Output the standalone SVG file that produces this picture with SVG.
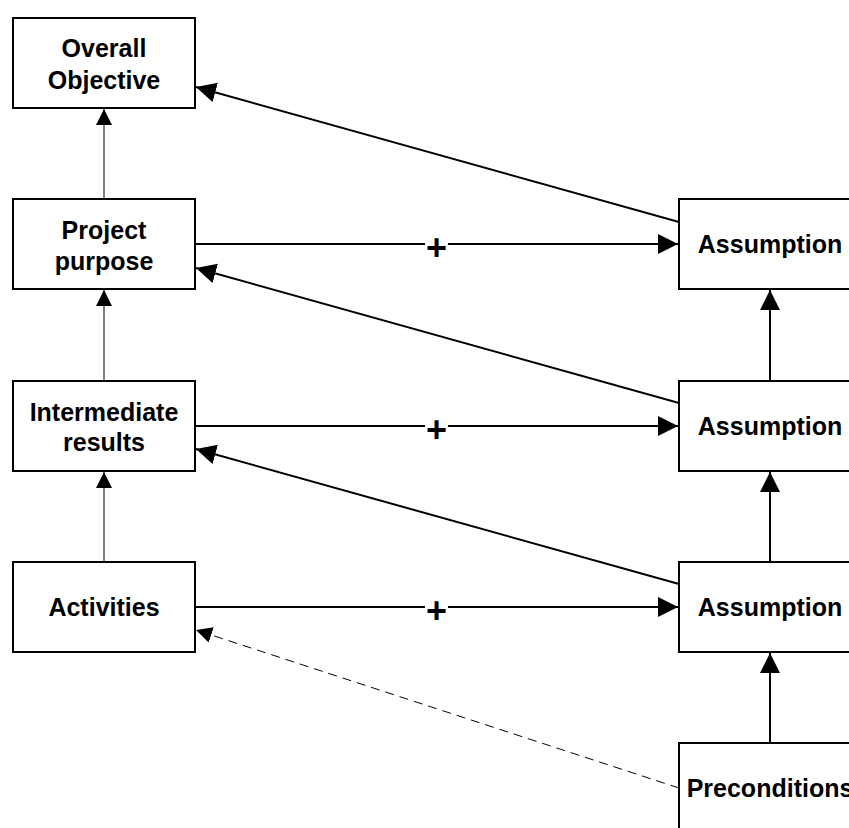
<svg xmlns="http://www.w3.org/2000/svg" width="849" height="828" viewBox="0 0 849 828">
<style>
.box{fill:#fff;stroke:#000;stroke-width:2}
.t{font-family:"Liberation Sans",Arial,sans-serif;font-weight:bold;font-size:25px;text-anchor:middle;fill:#000}
.plus{font-family:"Liberation Sans",Arial,sans-serif;font-weight:bold;font-size:36px;text-anchor:middle;fill:#000}
.thick{stroke:#000;stroke-width:2;fill:none}
.thin{stroke:#000;stroke-width:1;fill:none}
.dash{stroke:#000;stroke-width:1;fill:none;stroke-dasharray:9,6}
</style>
<defs>
<marker id="aBig" markerUnits="userSpaceOnUse" markerWidth="22" markerHeight="22" refX="20" refY="10" orient="auto" viewBox="0 0 22 22">
<path d="M0,0 L20,10 L0,20 Z" fill="#000"/>
</marker>
<marker id="aSmall" markerUnits="userSpaceOnUse" markerWidth="18" markerHeight="18" refX="16" refY="8" orient="auto" viewBox="0 0 18 18">
<path d="M0,0 L16,8 L0,16 Z" fill="#000"/>
</marker>
</defs>
<g id="connectors">
<line class="thin" x1="104" y1="199" x2="104" y2="109" marker-end="url(#aSmall)"/>
<line class="thin" x1="104" y1="381" x2="104" y2="290" marker-end="url(#aSmall)"/>
<line class="thin" x1="104" y1="562" x2="104" y2="472" marker-end="url(#aSmall)"/>
<line class="thick" x1="770" y1="381" x2="770" y2="290" marker-end="url(#aBig)"/>
<line class="thick" x1="770" y1="562" x2="770" y2="472" marker-end="url(#aBig)"/>
<line class="thick" x1="770" y1="743" x2="770" y2="653" marker-end="url(#aBig)"/>
<line class="thick" x1="195" y1="244" x2="425" y2="244"/>
<line class="thick" x1="448" y1="244" x2="678" y2="244" marker-end="url(#aBig)"/>
<text class="plus" x="436.5" y="260">+</text>
<line class="thick" x1="195" y1="426" x2="425" y2="426"/>
<line class="thick" x1="448" y1="426" x2="678" y2="426" marker-end="url(#aBig)"/>
<text class="plus" x="436.5" y="442">+</text>
<line class="thick" x1="195" y1="607" x2="425" y2="607"/>
<line class="thick" x1="448" y1="607" x2="678" y2="607" marker-end="url(#aBig)"/>
<text class="plus" x="436.5" y="623">+</text>
<line class="thick" x1="679" y1="222" x2="196" y2="87" marker-end="url(#aBig)"/>
<line class="thick" x1="679" y1="403" x2="196" y2="268" marker-end="url(#aBig)"/>
<line class="thick" x1="679" y1="584" x2="196" y2="449" marker-end="url(#aBig)"/>
<line class="dash" x1="679" y1="788" x2="196" y2="630" marker-end="url(#aSmall)"/>
</g>
<g id="overall-objective">
<rect class="box" x="13" y="18" width="182" height="90"/>
<text class="t" x="104" y="57">Overall</text>
<text class="t" x="104" y="89">Objective</text>
</g>
<g id="project-purpose">
<rect class="box" x="13" y="199" width="182" height="90"/>
<text class="t" x="104" y="239">Project</text>
<text class="t" x="104" y="270">purpose</text>
</g>
<g id="intermediate-results">
<rect class="box" x="13" y="381" width="182" height="90"/>
<text class="t" x="104" y="421">Intermediate</text>
<text class="t" x="104" y="451">results</text>
</g>
<g id="activities">
<rect class="box" x="13" y="562" width="182" height="90"/>
<text class="t" x="104" y="616">Activities</text>
</g>
<g id="assumption-1">
<rect class="box" x="679" y="199" width="182" height="90"/>
<text class="t" x="770" y="253">Assumption</text>
</g>
<g id="assumption-2">
<rect class="box" x="679" y="381" width="182" height="90"/>
<text class="t" x="770" y="435">Assumption</text>
</g>
<g id="assumption-3">
<rect class="box" x="679" y="562" width="182" height="90"/>
<text class="t" x="770" y="616">Assumption</text>
</g>
<g id="preconditions">
<rect class="box" x="679" y="743" width="182" height="90"/>
<text class="t" x="770" y="797">Preconditions</text>
</g>
</svg>
